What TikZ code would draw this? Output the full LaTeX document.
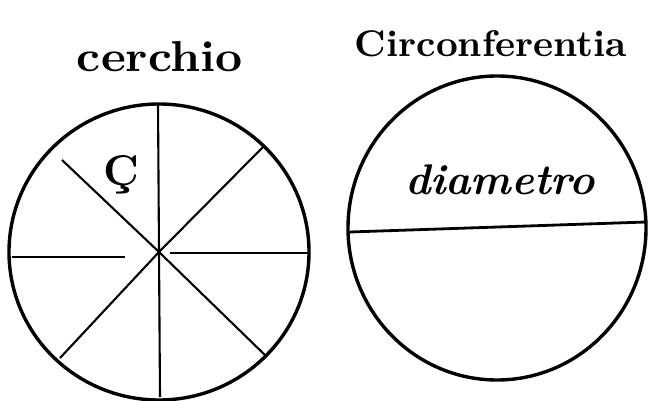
\documentclass[tikz,border=0pt]{standalone}
\usepackage{graphicx}
\begin{document}
\begin{tikzpicture}[x=1pt,y=-1pt,
  rim/.style={line width=3.4pt},
  ray/.style={line width=2.1pt},
  lbl/.style={inner sep=0pt}]
\useasboundingbox (0,0) rectangle (648,401);
% left circle
\coordinate (L) at (159,252);
\draw[rim] (L) ellipse [x radius=150, y radius=148];
\coordinate (t1) at (158,103);
\coordinate (b1) at (160,397);
\coordinate (hl) at (12,257);
\coordinate (hle) at (125,257);
\coordinate (hr) at (308,253);
\coordinate (hrs) at (170,253);
\coordinate (ul) at (62,160);
\coordinate (lr) at (267,357);
\coordinate (ur) at (263,147);
\coordinate (ll) at (60,358);
\draw[ray] (t1) -- (L) -- (b1);
\draw[ray] (hl) -- (hle);
\draw[ray] (hrs) -- (hr);
\draw[ray] (ul) -- (L) -- (lr);
\draw[ray] (ur) -- (L) -- (ll);
\node[lbl] (c) at (121,175) {\resizebox{!}{30pt}{\bfseries\c{C}}};
\node[lbl,anchor=base] (t) at (160,72) {\resizebox{166pt}{30pt}{\bfseries cerchio}};
% right circle
\coordinate (R) at (497,228);
\draw[rim] (R) ellipse [x radius=149, y radius=152];
\coordinate (d1) at (350,232);
\coordinate (d2) at (646,222);
\draw[line width=2.8pt] (d1) -- (d2);
\node[lbl,anchor=base] (dm) at (500,194) {\resizebox{190pt}{!}{\bfseries\itshape diametro}};
\node[lbl,anchor=base] (cf) at (491,57) {\resizebox{272pt}{26pt}{\bfseries Circonferentia}};
\end{tikzpicture}
\end{document}
